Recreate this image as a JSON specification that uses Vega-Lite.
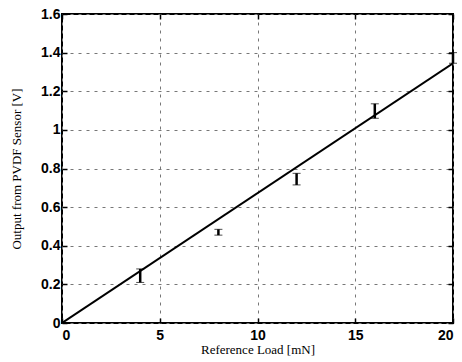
{
  "$schema": "https://vega.github.io/schema/vega-lite/v6.json",
  "autosize": "none",
  "width": 391,
  "height": 309,
  "padding": {"left": 62, "top": 14, "right": 9, "bottom": 39},
  "background": "white",
  "config": {
    "view": {"stroke": "black", "strokeWidth": 2},
    "axis": {
      "grid": true,
      "gridColor": "#777",
      "gridDash": [3, 5],
      "gridWidth": 1,
      "domain": false,
      "labelOverlap": false,
      "tickColor": "black",
      "tickSize": -5,
      "tickWidth": 1.5,
      "labelFont": "Liberation Sans",
      "labelFontSize": 14,
      "labelFontWeight": "bold",
      "labelColor": "black",
      "titleFont": "Liberation Serif",
      "titleFontSize": 13,
      "titleFontWeight": "normal",
      "titleColor": "black"
    }
  },
  "datasets": {
    "pts": [
      {"load": 4, "low": 0.21, "high": 0.28},
      {"load": 8, "low": 0.455, "high": 0.485},
      {"load": 12, "low": 0.715, "high": 0.775},
      {"load": 16, "low": 1.06, "high": 1.135},
      {"load": 20, "low": 1.345, "high": 1.4}
    ],
    "fit": [
      {"load": 0, "out": 0},
      {"load": 20, "out": 1.345}
    ]
  },
  "resolve": {"axis": {"x": "independent", "y": "independent"}},
  "layer": [
    {
      "data": {"name": "fit"},
      "mark": {"type": "line", "color": "black", "strokeWidth": 2, "clip": true},
      "encoding": {
        "x": {"field": "load", "type": "quantitative", "scale": {"domain": [0, 20], "nice": false},
          "axis": {"values": [0, 5, 10, 15, 20], "title": "Reference Load [mN]", "labelPadding": 10, "titlePadding": 1}},
        "y": {"field": "out", "type": "quantitative", "scale": {"domain": [0, 1.6], "nice": false},
          "axis": {"values": [0, 0.2, 0.4, 0.6, 0.8, 1, 1.2, 1.4, 1.6], "format": "~g", "title": "Output from PVDF Sensor [V]", "labelPadding": 7, "titlePadding": 17}}
      }
    },
    {
      "data": {"name": "fit"},
      "mark": {"type": "point", "opacity": 0},
      "encoding": {
        "x": {"field": "load", "type": "quantitative",
          "axis": {"orient": "top", "values": [0, 5, 10, 15, 20], "labels": false, "grid": false, "title": null}},
        "y": {"field": "out", "type": "quantitative",
          "axis": {"orient": "right", "values": [0, 0.2, 0.4, 0.6, 0.8, 1, 1.2, 1.4, 1.6], "labels": false, "grid": false, "title": null}}
      }
    },
    {
      "data": {"name": "pts"},
      "mark": {"type": "errorbar", "ticks": {"size": 8, "strokeWidth": 2, "color": "black"}, "rule": {"strokeWidth": 2.5, "color": "black"}},
      "encoding": {
        "x": {"field": "load", "type": "quantitative", "axis": null},
        "y": {"field": "low", "type": "quantitative", "axis": null},
        "y2": {"field": "high"}
      }
    }
  ]
}
